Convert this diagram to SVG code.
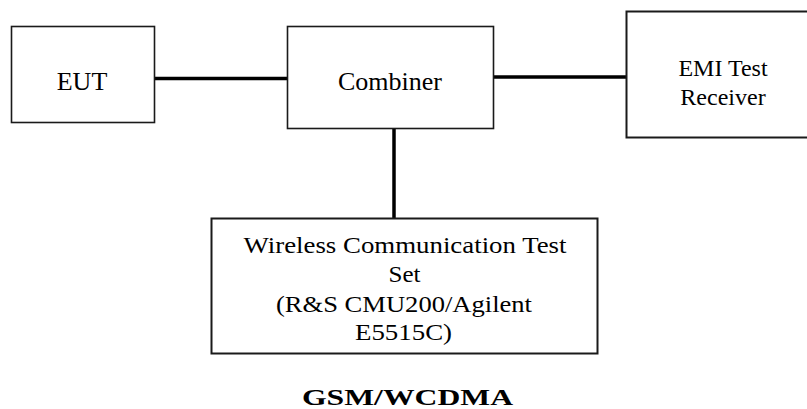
<svg xmlns="http://www.w3.org/2000/svg" width="807" height="409" viewBox="0 0 807 409">
<style>
.box{fill:#fff;stroke:#1a1a1a;stroke-width:1.6}
.t{font-family:"Liberation Serif","Times New Roman",serif;fill:#000;text-anchor:middle}
.conn line{stroke:#000;stroke-width:3.5}
</style>
<rect width="807" height="409" fill="#fff"/>
<g class="conn" id="connectors">
<line x1="155" y1="78.5" x2="287" y2="78.5"/>
<line x1="493" y1="77" x2="626" y2="77"/>
<line x1="394" y1="128" x2="394" y2="218"/>
</g>
<g id="eut">
<rect class="box" x="11.5" y="26.5" width="143" height="96"/>
<text class="t" x="82" y="89.5" font-size="26">EUT</text>
</g>
<g id="combiner">
<rect class="box" x="287.5" y="26.5" width="206" height="102"/>
<text class="t" x="390" y="90" font-size="26">Combiner</text>
</g>
<g id="emi">
<rect class="box" x="626.5" y="11.5" width="200" height="126" style="stroke-width:2"/>
<text class="t" x="723" y="75.5" font-size="24">EMI Test</text>
<text class="t" x="723" y="105" font-size="24">Receiver</text>
</g>
<g id="wireless">
<rect class="box" x="211.5" y="218.5" width="386" height="135" style="stroke-width:2"/>
<text class="t" x="405" y="253" font-size="22.5" textLength="323" lengthAdjust="spacingAndGlyphs">Wireless Communication Test</text>
<text class="t" x="404.5" y="282" font-size="22.5" textLength="32" lengthAdjust="spacingAndGlyphs">Set</text>
<text class="t" x="404" y="311.5" font-size="22.5" textLength="256" lengthAdjust="spacingAndGlyphs">(R&amp;S CMU200/Agilent</text>
<text class="t" x="403.5" y="340" font-size="22.5" textLength="97" lengthAdjust="spacingAndGlyphs">E5515C)</text>
</g>
<text class="t" x="407.5" y="405" font-size="24" font-weight="bold" textLength="211" lengthAdjust="spacingAndGlyphs">GSM/WCDMA</text>
</svg>
